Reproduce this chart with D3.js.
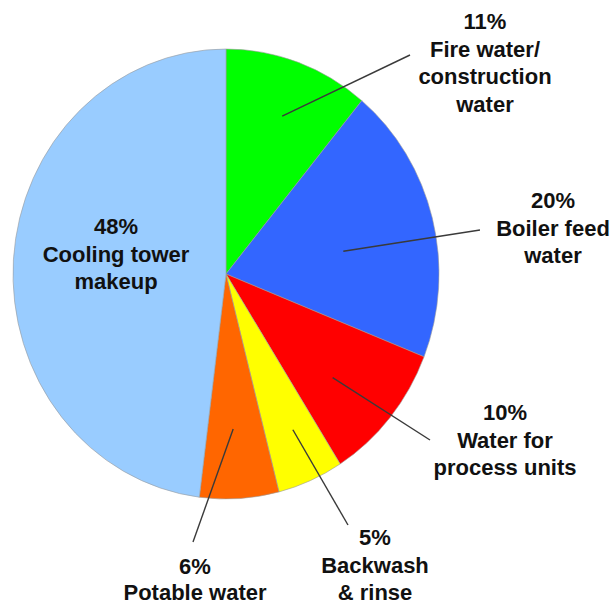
<!DOCTYPE html>
<html>
<head>
<meta charset="utf-8">
<script src="https://cdn.jsdelivr.net/npm/d3@7"></script>
<style>
  html, body { margin: 0; padding: 0; background: #fff; }
  svg { display: block; }
  text { font-family: "Liberation Sans", Arial, sans-serif; font-weight: bold; fill: #111; }
</style>
</head>
<body>
<script>
// ---- data ----
const categories = ["Fire water/\nconstruction\nwater", "Boiler feed\nwater", "Water for\nprocess units", "Backwash\n& rinse", "Potable water", "Cooling tower\nmakeup"];
const values = [11, 20, 10, 5, 6, 48];
const colors = ["#00FF00", "#3366FF", "#FF0000", "#FFFF00", "#FF6600", "#99CCFF"];

// ---- layout (label placement, leader anchors) ----
const W = 614, H = 604;
const cx = 226, cy = 274, rx = 213, ry = 225;
const labelLayout = [
  { x: 485, y: 29, lh: 27.5, lead: { r: 0.75, da: 0.8, ex: 410, ey: 55 } },
  { x: 553, y: 208, lh: 27.5, lead: { r: 0.56, da: 4.0, ex: 480, ey: 230 } },
  { x: 505, y: 420, lh: 27.5, lead: { r: 0.68, da: 3.0, ex: 430, ey: 440 } },
  { x: 375, y: 545, lh: 27.5, lead: { r: 0.76, da: -1.0, ex: 348, ey: 525 } },
  { x: 195, y: 574, lh: 26, lead: { r: 0.69, da: 0.8, ex: 193, ey: 542 } },
  { x: 116, y: 234, lh: 27.5, lead: null }
];

const svg = d3.select("body").append("svg").attr("width", W).attr("height", H);

const pie = d3.pie().sort(null).value(d => d)(values);
const arc = d3.arc().innerRadius(0).outerRadius(ry);

const g = svg.append("g").attr("transform", `translate(${cx},${cy}) scale(${rx / ry},1)`);
g.selectAll("path").data(pie).join("path")
  .attr("d", arc)
  .attr("fill", (d, i) => colors[i])
  .attr("stroke", "#9a9a9a")
  .attr("stroke-width", 0.6)
  .attr("vector-effect", "non-scaling-stroke");

// leader lines
pie.forEach((d, i) => {
  const L = labelLayout[i].lead;
  if (!L) return;
  const a = (d.startAngle + d.endAngle) / 2 + L.da * Math.PI / 180;
  const sx = cx + Math.sin(a) * L.r * rx;
  const sy = cy - Math.cos(a) * L.r * ry;
  svg.append("line")
    .attr("x1", sx).attr("y1", sy)
    .attr("x2", L.ex).attr("y2", L.ey)
    .attr("stroke", "#3a3a3a")
    .attr("stroke-width", 1.4);
});

// labels
pie.forEach((d, i) => {
  const lay = labelLayout[i];
  const lines = [values[i] + "%"].concat(categories[i].split("\n"));
  const t = svg.append("text")
    .attr("text-anchor", "middle")
    .attr("font-size", 22);
  lines.forEach((s, k) => {
    t.append("tspan").attr("x", lay.x).attr("y", lay.y + k * lay.lh).text(s);
  });
});
</script>
</body>
</html>
